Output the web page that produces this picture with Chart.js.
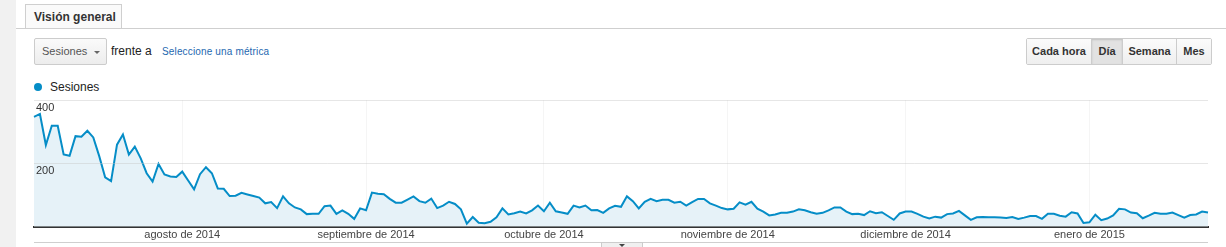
<!DOCTYPE html>
<html lang="es">
<head>
<meta charset="utf-8">
<title>Visión general</title>
<script src="https://cdn.jsdelivr.net/npm/chart.js@4.4.1/dist/chart.umd.min.js"></script>
<style>
  body { margin: 0; width: 1226px; height: 247px; overflow: hidden; background: #fff;
         font-family: Arial, "Liberation Sans", sans-serif; position: relative; }
  .side { position: absolute; left: 0; top: 0; width: 16px; height: 247px; background: #f1f1f1; }
  .rule { position: absolute; left: 16px; top: 28px; width: 1210px; height: 1px; background: #cfcfcf; }
  .tab { position: absolute; left: 25px; top: 4px; width: 97px; height: 24px; border: 1px solid #cfcfcf;
         border-bottom: none; background: #fafafa; font-size: 12px; font-weight: bold; color: #333;
         line-height: 24px; padding-left: 8px; box-sizing: border-box; }
  .drop { position: absolute; left: 34px; top: 38px; width: 73px; height: 27px; box-sizing: border-box;
          border: 1px solid #ccc; border-radius: 2px; background: linear-gradient(#fafafa, #ededed);
          font-size: 11px; color: #555; line-height: 25px; padding-left: 7px; }
  .drop:after { content: ""; position: absolute; left: 59px; top: 12px; border-left: 3px solid transparent;
                border-right: 3px solid transparent; border-top: 3px solid #666; }
  .vs { position: absolute; left: 111px; top: 44px; font-size: 12px; color: #222; }
  .pick { position: absolute; left: 162px; top: 46px; font-size: 10px; color: #2468b0; letter-spacing: 0.15px; }
  .btns { position: absolute; left: 1026px; top: 38px; height: 27px; display: flex; border: 1px solid #ccc;
          border-radius: 2px; box-sizing: border-box; }
  .btns div { font-size: 11px; font-weight: bold; color: #333; line-height: 25px; text-align: center;
              background: linear-gradient(#fbfbfb, #efefef); border-left: 1px solid #ccc; }
  .btns div:first-child { border-left: none; }
  .btns div.on { background: #e2e2e2; box-shadow: inset 0 1px 2px rgba(0,0,0,0.15); }
  .legend { position: absolute; left: 34px; top: 80px; font-size: 12px; color: #222; }
  .legend span { display: inline-block; width: 8px; height: 8px; border-radius: 50%; background: #058dc7;
                 margin-right: 8px; vertical-align: 0px; }
  .chart { position: absolute; left: 0; top: 90px; width: 1226px; height: 154px; }
  .foot { position: absolute; left: 34px; top: 242px; width: 1174px; height: 1px; background: #cfcfcf; }
  .grip { position: absolute; left: 601px; top: 242px; width: 42px; height: 6px; box-sizing: border-box;
          border: 1px solid #ccc; background: #f0f0f0; }
  .grip:after { content: ""; position: absolute; left: 17px; top: 1px; border-left: 3px solid transparent;
                border-right: 3px solid transparent; border-top: 3px solid #444; }
</style>
</head>
<body>
<div class="side"></div>
<div class="rule"></div>
<div class="tab">Visión general</div>
<div class="drop">Sesiones</div>
<div class="vs">frente a</div>
<div class="pick">Seleccione una métrica</div>
<div class="btns">
  <div style="width:64px">Cada hora</div>
  <div class="on" style="width:30px">Día</div>
  <div style="width:53px">Semana</div>
  <div style="width:34px">Mes</div>
</div>
<div class="legend"><span></span>Sesiones</div>
<div class="chart"><canvas id="sessionsChart"></canvas></div>
<div class="foot"></div>
<div class="grip"></div>

<script>
// daily sessions, 7 jul 2014 - 21 ene 2015
const startDate = [2014, 6, 7];
const monthNames = ['enero', 'febrero', 'marzo', 'abril', 'mayo', 'junio', 'julio',
  'agosto', 'septiembre', 'octubre', 'noviembre', 'diciembre'];
const sessions = [
  347, 356, 258, 319, 319, 228, 224, 286, 284, 303, 282, 223, 156, 144, 259, 291, 228, 253, 216, 169,
  143, 198, 165, 159, 157, 174, 146, 118, 166, 188, 169, 121, 120, 97, 98, 107, 102, 97, 92, 74,
  78, 59, 96, 74, 61, 55, 40,
  41, 41, 65, 67, 41, 52, 41, 25, 58, 52, 108, 104, 103, 88, 76, 76, 86, 96, 81, 76,
  89, 59, 67, 79, 72, 55, 10, 31, 13, 11, 16, 30, 58, 39, 43, 48,
  42, 52, 67, 49, 76, 49, 45, 41, 67, 61, 67, 52, 53, 44, 58, 66, 63, 96, 81, 58,
  79, 88, 81, 85, 85, 76, 79, 67, 78, 88, 88, 74, 67, 59, 55,
  57, 77, 70, 79, 57, 48, 36, 39, 44, 44, 48, 55, 52, 46, 41, 44, 52, 61, 61, 48,
  40, 41, 37, 49, 43, 46, 34, 22, 42, 48, 48, 41, 32, 26, 32, 29, 40,
  42, 50, 36, 22, 30, 31, 30, 30, 29, 28, 31, 25, 29, 34, 34, 25, 41, 41, 35, 32,
  46, 42, 12, 14, 38, 21, 26, 36, 57, 55, 45, 43, 27, 35, 44, 41, 41, 45, 37, 29,
  37, 39, 48, 45
];
const yTicks = [200, 400];

const days = sessions.map((v, i) => new Date(startDate[0], startDate[1], startDate[2] + i));
const labels = days.map(d => d.getDate() + '/' + (d.getMonth() + 1) + '/' + d.getFullYear());

function monthLabel(i) {
  const d = days[i];
  if (!d || d.getDate() !== 1) return '';
  return monthNames[d.getMonth()] + ' de ' + d.getFullYear();
}

Chart.defaults.font.family = 'Arial, "Liberation Sans", sans-serif';

const sessionsChart = new Chart(document.getElementById('sessionsChart'), {
  type: 'line',
  data: {
    labels: labels,
    datasets: [{
      label: 'Sesiones',
      data: sessions,
      borderColor: '#058dc7',
      backgroundColor: '#e6f2f8',
      borderWidth: 2,
      pointRadius: 0,
      tension: 0,
      fill: 'origin'
    }]
  },
  options: {
    responsive: true,
    maintainAspectRatio: false,
    animation: false,
    layout: { padding: { left: 30, right: 18, top: 10, bottom: 0 } },
    plugins: { legend: { display: false }, tooltip: { enabled: false } },
    scales: {
      x: {
        offset: false,
        grid: {
          drawTicks: false,
          color: ctx => monthLabel(ctx.index) ? '#f5f5f5' : 'rgba(0,0,0,0)'
        },
        border: { color: '#333', width: 2 },
        ticks: {
          autoSkip: false,
          maxRotation: 0,
          padding: 2,
          color: '#444',
          font: { size: 11 },
          callback: (v, i) => monthLabel(i)
        }
      },
      y: {
        min: 0,
        max: 400,
        afterBuildTicks: axis => { axis.ticks = [0].concat(yTicks).map(v => ({ value: v })); },
        grid: {
          z: 1,
          drawTicks: false,
          color: ctx => ctx.tick.value === 0 ? 'rgba(0,0,0,0)' : 'rgba(200,200,200,0.45)'
        },
        border: { display: false },
        ticks: {
          z: 2,
          mirror: true,
          padding: 2,
          labelOffset: 8,
          color: '#333',
          font: { size: 11 },
          callback: v => v === 0 ? '' : v
        }
      }
    }
  }
});
</script>
</body>
</html>
